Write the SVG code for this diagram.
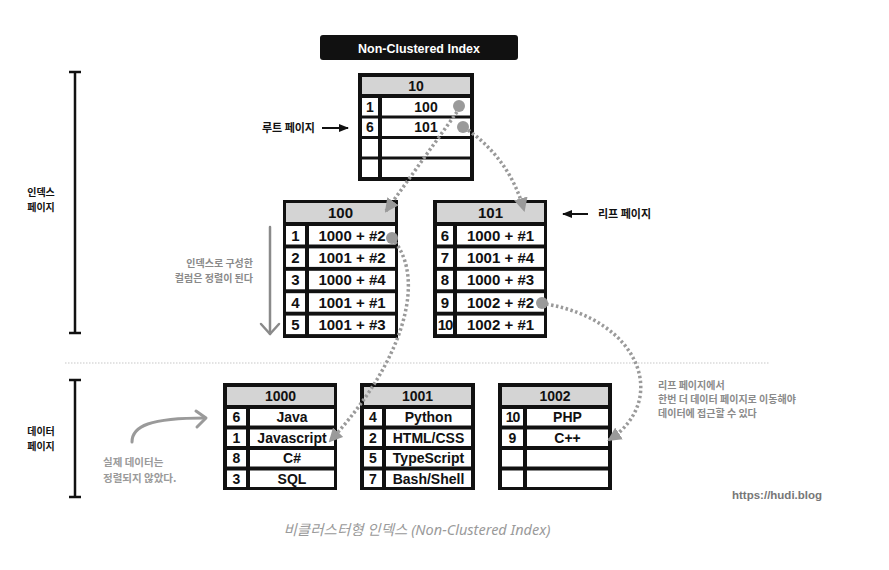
<svg xmlns="http://www.w3.org/2000/svg" width="889" height="570" viewBox="0 0 889 570">
<defs>
<style>
.tb{fill:#111}
.hd{fill:#d4d4d4}
.cl{fill:#fff}
.t{font-family:"Liberation Sans","Noto Sans CJK KR",sans-serif;font-weight:bold;font-size:15px;fill:#111;text-anchor:middle}
.ts{font-size:14px}
.kr{font-family:"Noto Sans CJK KR","Noto Sans",sans-serif;font-weight:bold}
.lab{font-size:11px;fill:#111}
.side{font-size:10px;fill:#111}
.note{font-size:10px;fill:#8a8a8a}
.conn{fill:none;stroke:#9a9a9a;stroke-width:3.5;stroke-dasharray:2.5 2.5}
.dot{fill:#9a9a9a}
.ga{fill:none;stroke:#8a8a8a;stroke-width:2.5;stroke-linecap:round;stroke-linejoin:round}
.bk{fill:none;stroke:#111;stroke-width:2.5}
</style>
<marker id="tri" markerUnits="userSpaceOnUse" markerWidth="14" markerHeight="14" viewBox="0 0 14 14" refX="12" refY="7" orient="auto">
<path d="M0,0 L14,7 L0,14 z" fill="#9a9a9a"/>
</marker>
<marker id="blk" markerUnits="userSpaceOnUse" markerWidth="10" markerHeight="10" viewBox="0 0 10 10" refX="9" refY="5" orient="auto">
<path d="M0,1 L10,5 L0,9 z" fill="#111"/>
</marker>
</defs>
<rect width="889" height="570" fill="#fff"/>

<g id="title">
<rect x="320" y="35" width="198" height="25" rx="3" fill="#111"/>
<text x="419" y="52.5" class="t" style="fill:#fff;font-size:13.5px" textLength="122" lengthAdjust="spacingAndGlyphs">Non-Clustered Index</text>
</g>

<g id="brackets">
<line x1="75" y1="72" x2="75" y2="333" class="bk"/>
<line x1="69" y1="72" x2="81" y2="72" class="bk"/>
<line x1="69" y1="333" x2="81" y2="333" class="bk"/>
<line x1="75" y1="380" x2="75" y2="497" class="bk"/>
<line x1="69" y1="380" x2="81" y2="380" class="bk"/>
<line x1="69" y1="497" x2="81" y2="497" class="bk"/>
<text x="41" y="196" class="kr side" text-anchor="middle">인덱스</text>
<text x="41" y="211" class="kr side" text-anchor="middle">페이지</text>
<text x="41" y="435" class="kr side" text-anchor="middle">데이터</text>
<text x="41" y="450" class="kr side" text-anchor="middle">페이지</text>
</g>

<line x1="65" y1="363" x2="770" y2="363" stroke="#c8c8c8" stroke-width="1.2" stroke-dasharray="1.5 1.5"/>

<g id="root-label">
<text x="315" y="132" class="kr lab" text-anchor="end">루트 페이지</text>
<line x1="322" y1="128" x2="348" y2="128" stroke="#111" stroke-width="2" marker-end="url(#blk)"/>
</g>
<g id="leaf-label">
<line x1="588" y1="214" x2="563" y2="214" stroke="#111" stroke-width="2" marker-end="url(#blk)"/>
<text x="598" y="218" class="kr lab">리프 페이지</text>
</g>

<g id="sort-note">
<line x1="270" y1="227" x2="270" y2="334" class="ga"/>
<polyline points="261,324 270,334 279,324" class="ga"/>
<text x="253" y="267" class="kr note" text-anchor="end">인덱스로 구성한</text>
<text x="253" y="282" class="kr note" text-anchor="end">컬럼은 정렬이 된다</text>
</g>

<g id="root-10">
<rect x="358" y="73" width="116" height="108" class="tb"/>
<rect x="362" y="77" width="108" height="17" class="hd"/>
<text x="416" y="90.5" class="t ts">10</text>
<rect x="362" y="98" width="16" height="17.5" class="cl"/><rect x="382" y="98" width="88" height="17.5" class="cl"/>
<rect x="362" y="118.5" width="16" height="17.5" class="cl"/><rect x="382" y="118.5" width="88" height="17.5" class="cl"/>
<rect x="362" y="139" width="16" height="17.5" class="cl"/><rect x="382" y="139" width="88" height="17.5" class="cl"/>
<rect x="362" y="159.5" width="16" height="17.5" class="cl"/><rect x="382" y="159.5" width="88" height="17.5" class="cl"/>
<text x="370" y="111.8" class="t ts">1</text><text x="426" y="111.8" class="t ts">100</text>
<text x="370" y="132.3" class="t ts">6</text><text x="426" y="132.3" class="t ts">101</text>
</g>

<g id="leaf-100">
<rect x="283" y="200" width="115" height="138" class="tb"/>
<rect x="286" y="203" width="109" height="19" class="hd"/>
<text x="340.5" y="217.5" class="t">100</text>
<rect x="286" y="226" width="19" height="18.5" class="cl"/><rect x="309" y="226" width="86" height="18.5" class="cl"/>
<rect x="286" y="248.4" width="19" height="18.5" class="cl"/><rect x="309" y="248.4" width="86" height="18.5" class="cl"/>
<rect x="286" y="270.8" width="19" height="18.5" class="cl"/><rect x="309" y="270.8" width="86" height="18.5" class="cl"/>
<rect x="286" y="293.2" width="19" height="18.5" class="cl"/><rect x="309" y="293.2" width="86" height="18.5" class="cl"/>
<rect x="286" y="315.6" width="19" height="18.5" class="cl"/><rect x="309" y="315.6" width="86" height="18.5" class="cl"/>
<text x="295.5" y="240.6" class="t">1</text><text x="352" y="240.6" class="t">1000 + #2</text>
<text x="295.5" y="263" class="t">2</text><text x="352" y="263" class="t">1001 + #2</text>
<text x="295.5" y="285.4" class="t">3</text><text x="352" y="285.4" class="t">1000 + #4</text>
<text x="295.5" y="307.8" class="t">4</text><text x="352" y="307.8" class="t">1001 + #1</text>
<text x="295.5" y="330.2" class="t">5</text><text x="352" y="330.2" class="t">1001 + #3</text>
</g>

<g id="leaf-101">
<rect x="433" y="200" width="114" height="138" class="tb"/>
<rect x="437" y="203" width="107" height="19" class="hd"/>
<text x="490.5" y="217.5" class="t">101</text>
<rect x="437" y="226" width="16" height="18.5" class="cl"/><rect x="457" y="226" width="87" height="18.5" class="cl"/>
<rect x="437" y="248.4" width="16" height="18.5" class="cl"/><rect x="457" y="248.4" width="87" height="18.5" class="cl"/>
<rect x="437" y="270.8" width="16" height="18.5" class="cl"/><rect x="457" y="270.8" width="87" height="18.5" class="cl"/>
<rect x="437" y="293.2" width="16" height="18.5" class="cl"/><rect x="457" y="293.2" width="87" height="18.5" class="cl"/>
<rect x="437" y="315.6" width="16" height="18.5" class="cl"/><rect x="457" y="315.6" width="87" height="18.5" class="cl"/>
<text x="445" y="240.6" class="t">6</text><text x="500.5" y="240.6" class="t">1000 + #1</text>
<text x="445" y="263" class="t">7</text><text x="500.5" y="263" class="t">1001 + #4</text>
<text x="445" y="285.4" class="t">8</text><text x="500.5" y="285.4" class="t">1000 + #3</text>
<text x="445" y="307.8" class="t">9</text><text x="500.5" y="307.8" class="t">1002 + #2</text>
<text x="445" y="330.2" class="t" style="letter-spacing:-1px">10</text><text x="500.5" y="330.2" class="t">1002 + #1</text>
</g>

<g id="data-1000">
<rect x="223" y="383" width="114" height="107" class="tb"/>
<rect x="227" y="387" width="107" height="18" class="hd"/>
<text x="280.5" y="401" class="t ts">1000</text>
<rect x="227" y="409" width="19" height="16.5" class="cl"/><rect x="250" y="409" width="84" height="16.5" class="cl"/>
<rect x="227" y="429.5" width="19" height="16.5" class="cl"/><rect x="250" y="429.5" width="84" height="16.5" class="cl"/>
<rect x="227" y="450" width="19" height="16.5" class="cl"/><rect x="250" y="450" width="84" height="16.5" class="cl"/>
<rect x="227" y="470.5" width="19" height="16.5" class="cl"/><rect x="250" y="470.5" width="84" height="16.5" class="cl"/>
<text x="236.5" y="422.3" class="t ts">6</text><text x="292" y="422.3" class="t ts">Java</text>
<text x="236.5" y="442.8" class="t ts">1</text><text x="292" y="442.8" class="t ts">Javascript</text>
<text x="236.5" y="463.3" class="t ts">8</text><text x="292" y="463.3" class="t ts">C#</text>
<text x="236.5" y="483.8" class="t ts">3</text><text x="292" y="483.8" class="t ts">SQL</text>
</g>

<g id="data-1001">
<rect x="360" y="383" width="115" height="107" class="tb"/>
<rect x="364" y="387" width="107" height="18" class="hd"/>
<text x="417.5" y="401" class="t ts">1001</text>
<rect x="364" y="409" width="18" height="16.5" class="cl"/><rect x="386" y="409" width="85" height="16.5" class="cl"/>
<rect x="364" y="429.5" width="18" height="16.5" class="cl"/><rect x="386" y="429.5" width="85" height="16.5" class="cl"/>
<rect x="364" y="450" width="18" height="16.5" class="cl"/><rect x="386" y="450" width="85" height="16.5" class="cl"/>
<rect x="364" y="470.5" width="18" height="16.5" class="cl"/><rect x="386" y="470.5" width="85" height="16.5" class="cl"/>
<text x="373" y="422.3" class="t ts">4</text><text x="428.5" y="422.3" class="t ts">Python</text>
<text x="373" y="442.8" class="t ts">2</text><text x="428.5" y="442.8" class="t ts">HTML/CSS</text>
<text x="373" y="463.3" class="t ts">5</text><text x="428.5" y="463.3" class="t ts">TypeScript</text>
<text x="373" y="483.8" class="t ts">7</text><text x="428.5" y="483.8" class="t ts">Bash/Shell</text>
</g>

<g id="data-1002">
<rect x="498" y="383" width="114" height="107" class="tb"/>
<rect x="502" y="387" width="106" height="18" class="hd"/>
<text x="555" y="401" class="t ts">1002</text>
<rect x="502" y="409" width="21" height="16.5" class="cl"/><rect x="527" y="409" width="81" height="16.5" class="cl"/>
<rect x="502" y="429.5" width="21" height="16.5" class="cl"/><rect x="527" y="429.5" width="81" height="16.5" class="cl"/>
<rect x="502" y="450" width="21" height="16.5" class="cl"/><rect x="527" y="450" width="81" height="16.5" class="cl"/>
<rect x="502" y="470.5" width="21" height="16.5" class="cl"/><rect x="527" y="470.5" width="81" height="16.5" class="cl"/>
<text x="512.5" y="422.3" class="t ts" style="letter-spacing:-1px">10</text><text x="567.5" y="422.3" class="t ts">PHP</text>
<text x="512.5" y="442.8" class="t ts">9</text><text x="567.5" y="442.8" class="t ts">C++</text>
</g>

<g id="connectors">
<path d="M457,112 L386,211" class="conn" marker-end="url(#tri)"/>
<path d="M468,130 Q510,160 524,210" class="conn" marker-end="url(#tri)"/>
<path d="M395,242 C425,280 405,360 330,441" class="conn" marker-end="url(#tri)"/>
<path d="M546,304 C640,320 670,400 609,440" class="conn" marker-end="url(#tri)"/>
<circle cx="459" cy="106" r="6" class="dot"/>
<circle cx="463" cy="127" r="6" class="dot"/>
<circle cx="392" cy="238" r="6" class="dot"/>
<circle cx="542" cy="303" r="6" class="dot"/>
</g>

<g id="data-note">
<path d="M132,442 C132,426 150,418 205,418" class="ga" style="stroke:#9a9a9a;stroke-width:3"/>
<polyline points="196,411 206,418 197,427" class="ga" style="stroke:#9a9a9a;stroke-width:3"/>
<text x="103" y="466" class="kr" style="font-size:10.5px;fill:#9a9a9a">실제 데이터는</text>
<text x="103" y="482" class="kr" style="font-size:10.5px;fill:#9a9a9a">정렬되지 않았다.</text>
</g>

<g id="leaf-note">
<text x="658" y="389" class="kr note">리프 페이지에서</text>
<text x="658" y="403" class="kr note">한번 더 데이터 페이지로 이동해야</text>
<text x="658" y="417" class="kr note">데이터에 접근할 수 있다</text>
</g>

<text x="732" y="499" style="font-family:'Liberation Sans',sans-serif;font-weight:bold;font-size:11.5px;fill:#777">https://hudi.blog</text>
<text x="417" y="535" text-anchor="middle" style="font-family:'Noto Sans','Noto Sans CJK KR',sans-serif;font-style:italic;font-size:14.5px;fill:#9a9a9a">비클러스터형 인덱스 (Non-Clustered Index)</text>
</svg>
